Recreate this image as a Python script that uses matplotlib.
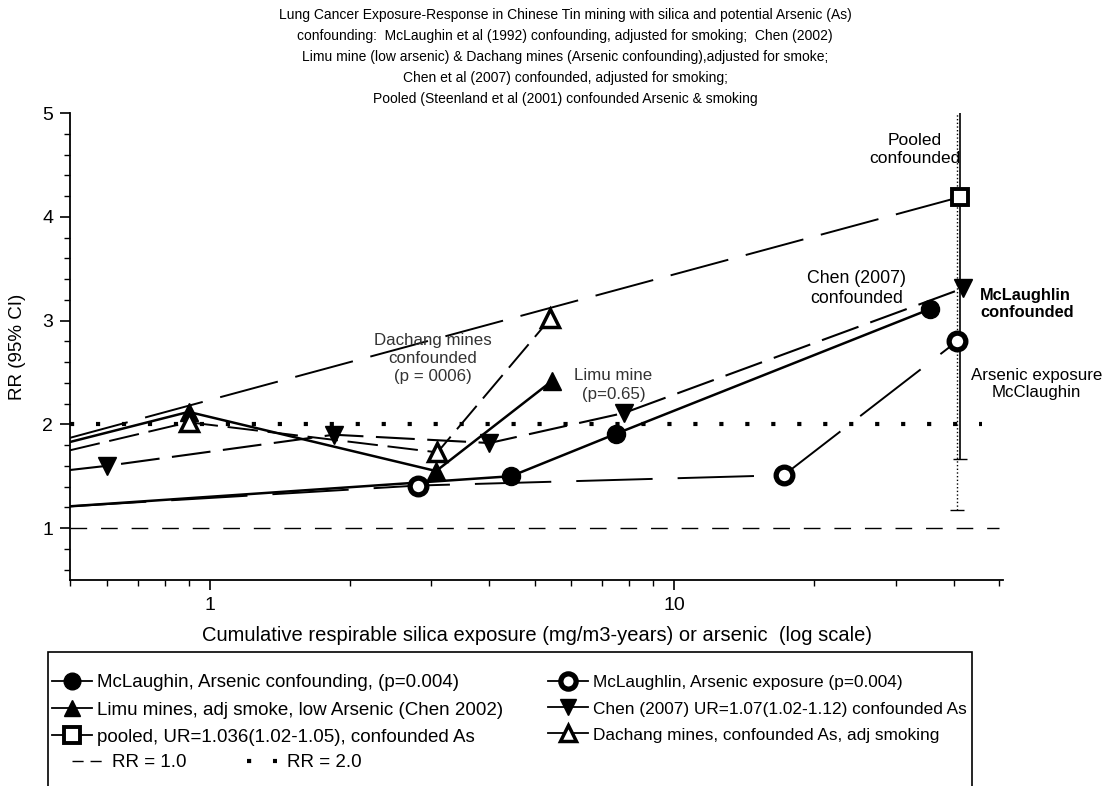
import matplotlib.pyplot as plt
from matplotlib.lines import Line2D
from matplotlib.patches import Rectangle
from matplotlib.ticker import LogLocator, FixedLocator, FormatStrFormatter, NullFormatter

plt.rcParams['font.family'] = ['Liberation Sans', 'DejaVu Sans']
plt.rcParams['lines.scale_dashes'] = False

# cumulative exposure (mg/m3-years) and relative risk per study
mcl_conf_x = [0.5, 4.45, 7.5, 35.5]
mcl_conf_rr = [1.21, 1.50, 1.91, 3.11]

mcl_as_x = [0.5, 2.8, 17.2, 40.6]
mcl_as_rr = [1.21, 1.41, 1.51, 2.80]

limu_x = [0.5, 0.9, 3.07, 5.46]
limu_rr = [1.83, 2.12, 1.55, 2.42]

chen_x = [0.5, 0.6, 1.85, 4.0, 7.8, 41.8]
chen_rr = [1.56, 1.60, 1.90, 1.82, 2.11, 3.31]

pooled_x = [0.5, 41.2]
pooled_rr = [1.87, 4.19]

dachang_x = [0.5, 0.9, 3.09, 5.41]
dachang_rr = [1.75, 2.02, 1.73, 3.02]

# confidence limits at the top exposure group
pooled_ci = [1.67, 6.5]
mcl_as_ci = [1.17, 6.5]

rr1_x = [0.5, 50]
rr2_x = [0.5, 46]

styles = {
    "mcl_conf": dict(color="k", lw=1.8, ls="-", marker="o", ms=13, mfc="k", mec="k"),
    "mcl_as": dict(color="k", lw=1.4, ls=(0, (55, 18)), marker="o", ms=12, mfc="w", mec="k", mew=3.8),
    "limu": dict(color="k", lw=1.8, ls="-", marker="^", ms=13, mfc="k", mec="k"),
    "chen": dict(color="k", lw=1.5, ls=(0, (28, 9)), marker="v", ms=13, mfc="k", mec="k"),
    "pooled": dict(color="k", lw=1.4, ls=(0, (43, 13)), marker="s", ms=12, mfc="w", mec="k", mew=2.8),
    "dachang": dict(color="k", lw=1.4, ls=(0, (22, 7)), marker="^", ms=13, mfc="w", mec="k", mew=2.5),
}

fig = plt.figure(figsize=(11.09, 7.86), dpi=100)
ax = fig.add_axes([70 / 1109, 1 - 580 / 786, 933 / 1109, 467 / 786])

# reference lines
ax.plot(rr1_x, [1.0, 1.0], color="k", lw=1.0, ls=(0, (12, 10)))
ax.plot(rr2_x, [2.0, 2.0], color="k", lw=3, ls=(0, (3, 15.7)))

# each series: line through all points, markers from the 2nd point on
series = [
    ("mcl_conf", mcl_conf_x, mcl_conf_rr),
    ("mcl_as", mcl_as_x, mcl_as_rr),
    ("limu", limu_x, limu_rr),
    ("chen", chen_x, chen_rr),
    ("pooled", pooled_x, pooled_rr),
    ("dachang", dachang_x, dachang_rr),
]
for key, xs, ys in series:
    ax.plot(xs, ys, markevery=list(range(1, len(xs))), zorder=3, **styles[key])

eb = ax.errorbar(pooled_x[-1], pooled_rr[-1],
                 yerr=[[pooled_rr[-1] - pooled_ci[0]], [pooled_ci[1] - pooled_rr[-1]]],
                 fmt="none", ecolor="k", elinewidth=1.2, capsize=5, zorder=2)
eb2 = ax.errorbar(mcl_as_x[-1], mcl_as_rr[-1],
                  yerr=[[mcl_as_rr[-1] - mcl_as_ci[0]], [mcl_as_ci[1] - mcl_as_rr[-1]]],
                  fmt="none", ecolor="k", elinewidth=1.0, capsize=5, zorder=2)
eb2[2][0].set_linestyle(":")

ax.set_xscale("log")
ax.set_xlim(0.5, 51)
ax.set_ylim(0.5, 5)
ax.xaxis.set_major_locator(FixedLocator([1, 10]))
ax.xaxis.set_major_formatter(FormatStrFormatter("%g"))
ax.xaxis.set_minor_locator(LogLocator(subs=range(2, 10)))
ax.xaxis.set_minor_formatter(NullFormatter())
ax.yaxis.set_major_locator(FixedLocator([1, 2, 3, 4, 5]))
ax.yaxis.set_minor_locator(FixedLocator([0.6, 0.8, 1.2, 1.4, 1.6, 1.8, 2.2, 2.4, 2.6, 2.8,
                                         3.2, 3.4, 3.6, 3.8, 4.2, 4.4, 4.6, 4.8]))
ax.tick_params(which="major", direction="out", length=7, width=1.2, labelsize=14, pad=5)
ax.tick_params(which="minor", direction="out", length=4, width=1.0)
for s in ["top", "right"]:
    ax.spines[s].set_visible(False)
for s in ["left", "bottom"]:
    ax.spines[s].set_linewidth(1.3)

ax.set_ylabel("RR (95% CI)", fontsize=13.5)
ax.yaxis.set_label_coords(-0.047, 0.5)
ax.set_xlabel("Cumulative respirable silica exposure (mg/m3-years) or arsenic  (log scale)",
              fontsize=14.5, labelpad=9)

title_lines = [
    "Lung Cancer Exposure-Response in Chinese Tin mining with silica and potential Arsenic (As)",
    "confounding:  McLaughin et al (1992) confounding, adjusted for smoking;  Chen (2002)",
    "Limu mine (low arsenic) & Dachang mines (Arsenic confounding),adjusted for smoke;",
    "Chen et al (2007) confounded, adjusted for smoking;",
    "Pooled (Steenland et al (2001) confounded Arsenic & smoking",
]
for i, line in enumerate(title_lines):
    fig.text(565 / 1109, 1 - (15 + 21 * i) / 786, line, ha="center", va="center", fontsize=10)

# point labels
ax.text(33.0, 4.65, "Pooled\nconfounded", ha="center", va="center", fontsize=12.5)
ax.text(24.7, 3.31, "Chen (2007)\nconfounded", ha="center", va="center", fontsize=12.8)
ax.text(45.5, 3.16, "McLaughlin\nconfounded", ha="left", va="center", fontsize=11.8,
        fontweight="bold")
ax.text(60.3, 2.39, "Arsenic exposure\nMcClaughin", ha="center", va="center", fontsize=12.2)
ax.text(3.02, 2.63, "Dachang mines\nconfounded\n(p = 0006)", ha="center", va="center",
        fontsize=12.2, color="#333333", linespacing=1.25)
ax.text(7.39, 2.38, "Limu mine\n(p=0.65)", ha="center", va="center", fontsize=12.2,
        color="#333333", linespacing=1.3)

# legend
labels = [
    "McLaughin, Arsenic confounding, (p=0.004)",
    "Limu mines, adj smoke, low Arsenic (Chen 2002)",
    "pooled, UR=1.036(1.02-1.05), confounded As",
    "McLaughlin, Arsenic exposure (p=0.004)",
    "Chen (2007) UR=1.07(1.02-1.12) confounded As",
    "Dachang mines, confounded As, adj smoking",
]
keys = ["mcl_conf", "limu", "pooled", "mcl_as", "chen", "dachang"]
handles = []
for k in keys:
    st = dict(styles[k])
    st["ls"] = "-"
    st["lw"] = 1.3
    st["ms"] = st["ms"] - 1
    handles.append(Line2D([], [], **st))
leg = fig.legend(handles, labels, ncol=2, loc="upper left",
                 bbox_to_anchor=(52 / 1109, 1 - 674 / 786),
                 frameon=False, fontsize=13.5, handlelength=2.15, handletextpad=0.27,
                 columnspacing=2.35, labelspacing=0.55, borderpad=0, borderaxespad=0)
for t in leg.get_texts()[3:]:
    t.set_fontsize(12.4)

rr_handles = [Line2D([], [], color="k", lw=1.0, ls=(0, (8, 5))),
              Line2D([], [], color="k", lw=3, ls=(0, (3, 15.7)))]
fig.legend(rr_handles, ["RR = 1.0", "RR = 2.0"], ncol=2, loc="upper left",
           bbox_to_anchor=(72 / 1109, 1 - 754 / 786), frameon=False, fontsize=13.5,
           handlelength=1.6, handletextpad=0.55, columnspacing=3.2, borderpad=0, borderaxespad=0)

fig.add_artist(Rectangle((48 / 1109, -0.05), 924 / 1109, 0.05 + 1 - 652 / 786,
                         transform=fig.transFigure, fill=False, lw=1.2, ec="k"))

fig.savefig("out.png", dpi=100)
